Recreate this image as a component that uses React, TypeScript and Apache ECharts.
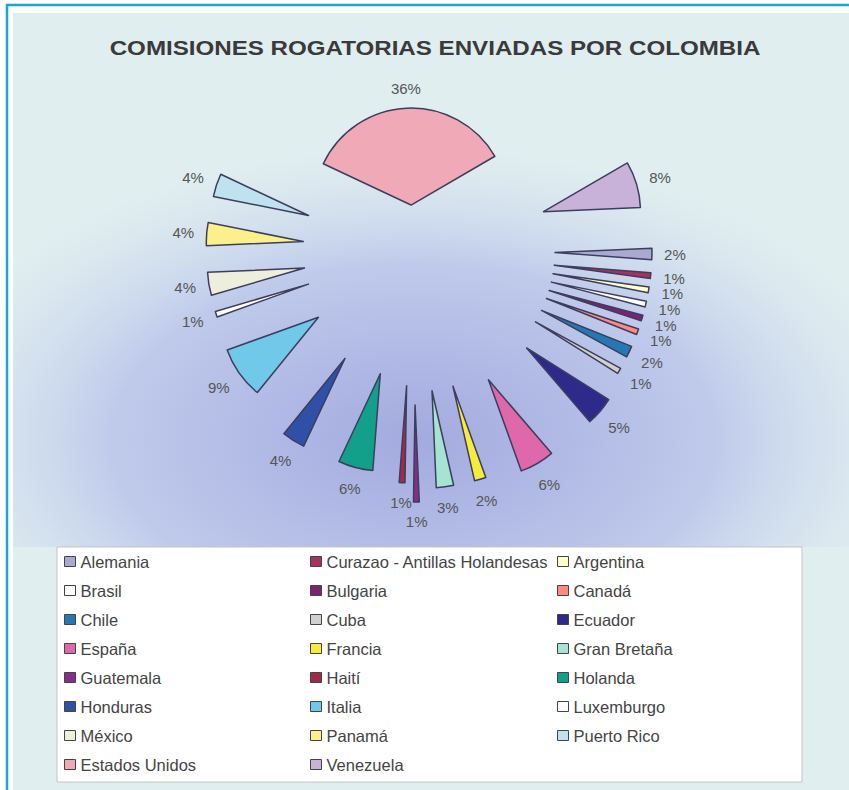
import React, { useEffect, useRef } from "react";
import * as echarts from "echarts";

const names = [
  "Alemania", "Curazao - Antillas Holandesas", "Argentina",
  "Brasil", "Bulgaria", "Canadá",
  "Chile", "Cuba", "Ecuador",
  "España", "Francia", "Gran Bretaña",
  "Guatemala", "Haití", "Holanda",
  "Honduras", "Italia", "Luxemburgo",
  "México", "Panamá", "Puerto Rico",
  "Estados Unidos", "Venezuela",
];
const values = [2, 1, 1, 1, 1, 1, 2, 1, 5, 6, 2, 3, 1, 1, 6, 4, 9, 1, 4, 4, 4, 36, 8];
const colors = [
  "#a9a9d2", "#a3335e", "#ffffcc",
  "#ffffff", "#7b2176", "#ff8a80",
  "#2479b5", "#d0d0d0", "#2e2a8c",
  "#de68a9", "#f7ec3c", "#a6e4d1",
  "#862c8a", "#a12a48", "#12a08a",
  "#3050a8", "#70c9e8", "#ffffff",
  "#eeeedc", "#fcf08a", "#bfe2f0",
  "#f0a9b7", "#c9b2d9",
];
// how far (px) each slice is pulled out of the pie
const explode = [142, 142, 142, 142, 142, 142, 142, 142, 150, 150, 142, 142, 155, 136, 128, 128, 116, 110, 110, 110, 110, 45, 136];

const FONT = "'Liberation Sans', Arial, sans-serif";
const CX = 413;
const CY = 250;
const LABEL_GAP = 12;

export default function App() {
  const ref = useRef<HTMLDivElement>(null);
  useEffect(() => {
    if (!ref.current) return;
    const chart = echarts.init(ref.current, undefined, { renderer: "svg" });
    const groups = Array.from(new Set(explode));

    // put each label's box just outside the arc, along the slice bisector
    const labelLayout = (p: any) => {
      const r = p.labelRect;
      if (!r) return {};
      const ax = p.align === "right" ? r.x + r.width : p.align === "center" ? r.x + r.width / 2 : r.x;
      const ay = r.y + r.height / 2;
      let vx = ax - CX;
      let vy = ay - CY;
      const len = Math.sqrt(vx * vx + vy * vy) || 1;
      vx /= len;
      vy /= len;
      const ext = LABEL_GAP + Math.abs(vx) * r.width / 2 + Math.abs(vy) * r.height / 2;
      const tx = ax + vx * ext;
      const ty = ay + vy * ext;
      return { dx: tx - (r.x + r.width / 2), dy: ty - (r.y + r.height / 2) };
    };

    const series = groups.map((g) => ({
      type: "pie",
      center: [CX, CY],
      radius: 97,
      startAngle: 2.5,
      clockwise: true,
      selectedMode: "multiple",
      selectedOffset: g,
      silent: true,
      avoidLabelOverlap: false,
      emphasis: { disabled: true },
      label: {
        show: true,
        position: "outside",
        formatter: (p: any) => p.value + "%",
        color: "#555",
        fontSize: 15,
        fontFamily: FONT,
        distanceToLabelLine: 0,
      },
      labelLine: { show: false, length: 0, length2: 0 },
      labelLayout,
      itemStyle: { borderColor: "#3d3d5c", borderWidth: 1.5 },
      data: names.map((n, i) =>
        explode[i] === g
          ? { name: n, value: values[i], selected: true, itemStyle: { color: colors[i] } }
          : {
              name: n,
              value: values[i],
              selected: false,
              itemStyle: { color: "rgba(0,0,0,0)", borderWidth: 0 },
              label: { show: false },
            }
      ),
    }));

    const cols = [0, 1, 2].map((c) => names.filter((_, i) => i % 3 === c));
    const colLeft = [64, 310, 557];
    const legend = cols.map((col, c) => ({
      orient: "vertical",
      left: colLeft[c],
      top: 553,
      padding: 0,
      itemWidth: 11,
      itemHeight: 10,
      itemGap: 12,
      icon: "rect",
      selectedMode: false,
      textStyle: { fontSize: 16.5, color: "#444", fontFamily: FONT, lineHeight: 17 },
      data: col.map((n) => ({
        name: n,
        itemStyle: { color: colors[names.indexOf(n)], borderColor: "#444", borderWidth: 1, opacity: 1 },
      })),
    }));

    chart.setOption({
      animation: false,
      graphic: [
        { type: "rect", z: -100, shape: { x: 0, y: 0, width: 849, height: 790 }, style: { fill: "#ffffff" } },
        { type: "rect", z: -99, shape: { x: 7, y: 5, width: 900, height: 900 }, style: { fill: "#ffffff", stroke: "#1ba3dd", lineWidth: 2.5 } },
        { type: "rect", z: -98, shape: { x: 13, y: 13, width: 900, height: 900 }, style: { fill: "#e0eef0" } },
        {
          type: "rect", z: -97,
          shape: { x: 13, y: 60, width: 836, height: 487 },
          style: {
            fill: new echarts.graphic.RadialGradient(0.48, 0.78, 0.8, [
              { offset: 0, color: "#a3aadf" },
              { offset: 0.45, color: "#bfcaeb" },
              { offset: 0.75, color: "rgba(224,238,240,0.5)" },
              { offset: 1, color: "rgba(224,238,240,0)" },
            ]),
          },
        },
        { type: "rect", z: -96, shape: { x: 57, y: 547, width: 745, height: 235 }, style: { fill: "#ffffff", stroke: "#c4c4c4", lineWidth: 1 } },
        {
          type: "text", z: 10, x: 435, y: 48, scaleX: 1.15,
          style: {
            text: "COMISIONES ROGATORIAS ENVIADAS POR COLOMBIA",
            fontSize: 21, fontWeight: "bold", fontFamily: FONT, fill: "#3a3a3a",
            align: "center", verticalAlign: "middle", textAlign: "center", textVerticalAlign: "middle",
          },
        },
      ],
      legend,
      series,
    });
    return () => chart.dispose();
  }, []);
  return <div ref={ref} style={{ position: "absolute", left: 0, top: 0, width: 849, height: 790 }} />;
}
